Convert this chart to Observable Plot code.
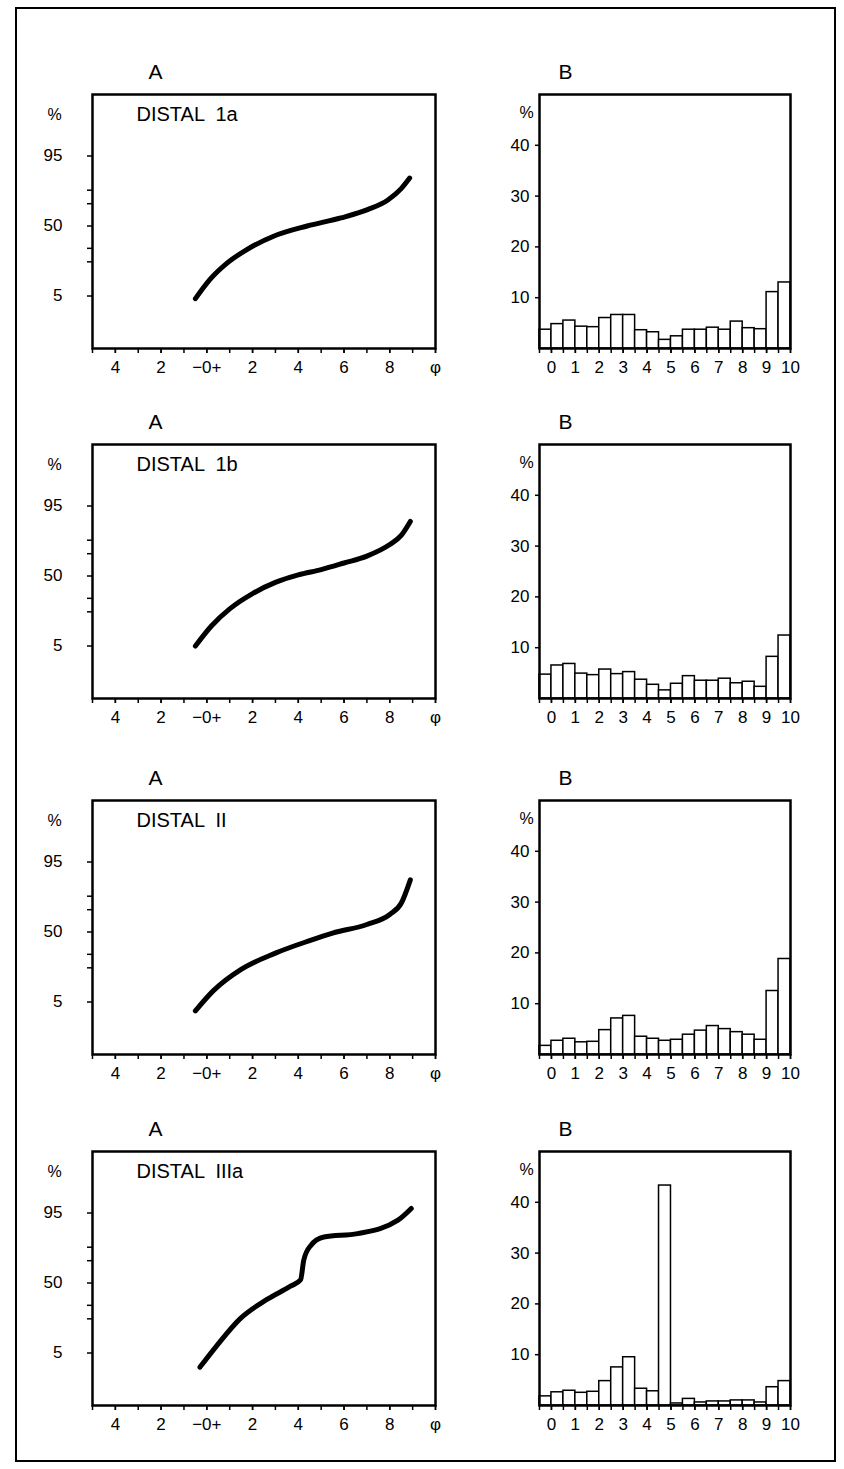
<!DOCTYPE html>
<html><head><meta charset="utf-8">
<script src="https://cdn.jsdelivr.net/npm/d3@7"></script>
<script src="https://cdn.jsdelivr.net/npm/@observablehq/plot@0.6"></script>
<style>
html,body{margin:0;padding:0;background:#fff;}
#fig{position:relative;width:844px;height:1469px;overflow:hidden;font-family:"Liberation Sans",Arial,sans-serif;}
#border{position:absolute;left:15px;top:7px;width:821px;height:1455px;border:2px solid #000;box-sizing:border-box;}
.panel{position:absolute;}
</style></head><body><div id="fig"><div id="border"></div></div>
<script>
// ---------- data ----------
const sampleNames = ["DISTAL  1a", "DISTAL  1b", "DISTAL  II", "DISTAL  IIIa"];

// cumulative curves (phi, cumulative %)
const cumPhi1 = [-0.5, 0.13, 0.87, 1.75, 2.92, 4.39, 5.86, 7.03, 7.92, 8.5, 8.87];
const cumPct1 = [4.4, 10.4, 19, 29, 40.5, 50, 57.5, 65, 73, 81, 87];
const cumPhi2 = [-0.5, 0.2, 1.0, 2.0, 3.0, 4.0, 5.0, 6.0, 7.0, 8.0, 8.5, 8.9];
const cumPct2 = [5, 12, 22, 34, 44, 51, 56, 62, 68, 77, 83, 90];
const cumPhi3 = [-0.5, 0.3, 1.5, 3.0, 4.5, 5.5, 7.0, 8.0, 8.5, 8.9];
const cumPct3 = [3.2, 8.5, 19, 31, 42, 49, 57, 66, 75, 89];
const cumPhi4 = [-0.3, 0.43, 1.45, 2.63, 3.66, 4.1, 4.24, 4.54, 5.12, 6.59, 8.36, 8.94];
const cumPct4 = [2.4, 7, 20, 35, 47, 53, 70.6, 81, 86, 87.7, 93, 96];

// histogram classes (half-phi), lower edges
const binLower = [-0.5, 0, 0.5, 1, 1.5, 2, 2.5, 3, 3.5, 4, 4.5, 5, 5.5, 6, 6.5, 7, 7.5, 8, 8.5, 9, 9.5];
const binWidth = 0.5;
const freq1 = [3.7, 4.8, 5.5, 4.3, 4.2, 6.0, 6.6, 6.6, 3.6, 3.2, 1.7, 2.4, 3.7, 3.7, 4.1, 3.7, 5.3, 4.0, 3.8, 11.1, 13.0];
const freq2 = [4.7, 6.5, 6.8, 4.9, 4.6, 5.7, 4.8, 5.2, 3.7, 2.7, 1.6, 2.9, 4.4, 3.5, 3.5, 3.9, 3.0, 3.3, 2.3, 8.2, 12.4];
const freq3 = [1.7, 2.7, 3.1, 2.4, 2.5, 4.8, 7.1, 7.6, 3.5, 3.1, 2.7, 2.9, 3.9, 4.7, 5.6, 5.0, 4.4, 3.9, 2.9, 12.5, 18.8];
const freq4 = [1.8, 2.6, 2.9, 2.5, 2.7, 4.8, 7.5, 9.5, 3.3, 2.8, 43.3, 0.4, 1.3, 0.6, 0.8, 0.8, 1.0, 1.0, 0.6, 3.6, 4.8];

// axis ticks
const aTickValues = [-4, -2, 0, 2, 4, 6, 8, 10];
const aTickLabels = ["4", "2", "−0+", "2", "4", "6", "8", "φ"];
const aMinorTicks = [-5, -4, -3, -2, -1, 0, 1, 2, 3, 4, 5, 6, 7, 8, 9, 10];
const aPctTicks = [5, 50, 95];
const aPctMinor = [20, 30, 70, 80];
const bTickValues = [0, 1, 2, 3, 4, 5, 6, 7, 8, 9, 10];
const bMinorTicks = [-0.5, 0, 0.5, 1, 1.5, 2, 2.5, 3, 3.5, 4, 4.5, 5, 5.5, 6, 6.5, 7, 7.5, 8, 8.5, 9, 9.5, 10];
const bFreqTicks = [10, 20, 30, 40];

const cumPhis = [cumPhi1, cumPhi2, cumPhi3, cumPhi4];
const cumPcts = [cumPct1, cumPct2, cumPct3, cumPct4];
const freqs = [freq1, freq2, freq3, freq4];

// ---------- probability (probit) transform ----------
function probit(p) {
  const a = [-3.969683028665376e+01, 2.209460984245205e+02, -2.759285104469687e+02, 1.383577518672690e+02, -3.066479806614716e+01, 2.506628277459239e+00];
  const b = [-5.447609879822406e+01, 1.615858368580409e+02, -1.556989798598866e+02, 6.680131188771972e+01, -1.328068155288572e+01];
  const c = [-7.784894002430293e-03, -3.223964580411365e-01, -2.400758277161838e+00, -2.549732539343734e+00, 4.374664141464968e+00, 2.938163982698783e+00];
  const d = [7.784695709041462e-03, 3.224671290700398e-01, 2.445134137142996e+00, 3.754408661907416e+00];
  const pl = 0.02425, ph = 1 - pl;
  let q, r;
  if (p < pl) { q = Math.sqrt(-2 * Math.log(p)); return (((((c[0]*q+c[1])*q+c[2])*q+c[3])*q+c[4])*q+c[5]) / ((((d[0]*q+d[1])*q+d[2])*q+d[3])*q+1); }
  if (p <= ph) { q = p - 0.5; r = q*q; return (((((a[0]*r+a[1])*r+a[2])*r+a[3])*r+a[4])*r+a[5])*q / (((((b[0]*r+b[1])*r+b[2])*r+b[3])*r+b[4])*r+1); }
  q = Math.sqrt(-2 * Math.log(1 - p));
  return -(((((c[0]*q+c[1])*q+c[2])*q+c[3])*q+c[4])*q+c[5]) / ((((d[0]*q+d[1])*q+d[2])*q+d[3])*q+1);
}
const zOf = pct => probit(pct / 100);

// ---------- layout ----------
const FONT = "'Liberation Sans', Arial, sans-serif";
const rowTops = [94, 444, 800, 1151];
const frameH = 254;
const A = {left: 92, w: 343, ml: 80, mr: 20, mt: 40, mb: 40};
const B = {left: 539, w: 251, ml: 40, mr: 30, mt: 40, mb: 40};

const fig = document.getElementById("fig");
function place(svg, left, top) {
  svg.classList.add("panel");
  svg.style.left = left + "px";
  svg.style.top = top + "px";
  fig.appendChild(svg);
}

function plotA(i) {
  const data = cumPhis[i].map((p, k) => ({phi: p, z: zOf(cumPcts[i][k])}));
  const zTicks = aPctTicks.map(zOf);
  return Plot.plot({
    width: A.ml + A.w + A.mr, height: A.mt + frameH + A.mb,
    marginLeft: A.ml, marginRight: A.mr, marginTop: A.mt, marginBottom: A.mb,
    style: {fontFamily: FONT, fontSize: "17px", background: "transparent", color: "#000"},
    x: {domain: [-5, 10]},
    y: {domain: [zOf(0.2), zOf(99.9)]},
    marks: [
      Plot.axisX({ticks: aMinorTicks, tickSize: 5, tickFormat: () => "", label: null, strokeWidth: 1.5}),
      Plot.axisX({ticks: aTickValues, tickSize: 5, tickPadding: 7, label: null, strokeWidth: 1.5, fontSize: 17,
        tickFormat: d => aTickLabels[aTickValues.indexOf(d)]}),
      Plot.axisY({ticks: aPctMinor.map(zOf), tickSize: 5, tickFormat: () => "", label: null, strokeWidth: 1.5}),
      Plot.axisY({ticks: zTicks, tickSize: 5, tickPadding: 25, label: null, strokeWidth: 1.5, fontSize: 17,
        tickFormat: d => String(aPctTicks[zTicks.findIndex(z => Math.abs(z - d) < 1e-9)])}),
      Plot.line(data, {x: "phi", y: "z", stroke: "#000", strokeWidth: 5, curve: "monotone-x", strokeLinecap: "round"}),
      Plot.frame({stroke: "#000", strokeWidth: 2.5}),
      Plot.text(["A"], {frameAnchor: "top-left", dx: 63, dy: -22, fontSize: 21, textAnchor: "middle", lineAnchor: "middle"}),
      Plot.text(["%"], {frameAnchor: "top-left", dx: -38, dy: 20, fontSize: 16, textAnchor: "middle", lineAnchor: "middle"}),
      Plot.text([sampleNames[i]], {frameAnchor: "top-left", dx: 44, dy: 20, fontSize: 20, textAnchor: "start", lineAnchor: "middle"})
    ]
  });
}

function plotB(i) {
  const bins = binLower.map((x, k) => ({x1: x, x2: x + binWidth, f: freqs[i][k]}));
  return Plot.plot({
    width: B.ml + B.w + B.mr, height: B.mt + frameH + B.mb,
    marginLeft: B.ml, marginRight: B.mr, marginTop: B.mt, marginBottom: B.mb,
    style: {fontFamily: FONT, fontSize: "17px", background: "transparent", color: "#000"},
    x: {domain: [-0.5, 10]},
    y: {domain: [0, 50]},
    marks: [
      Plot.rectY(bins, {x1: "x1", x2: "x2", y1: 0, y2: "f", fill: "white", stroke: "#000", strokeWidth: 1.5}),
      Plot.axisX({ticks: bMinorTicks, tickSize: 5, tickFormat: () => "", label: null, strokeWidth: 1.5}),
      Plot.axisX({ticks: bTickValues, tickSize: 5, tickPadding: 7, label: null, strokeWidth: 1.5, fontSize: 17}),
      Plot.axisY({ticks: bFreqTicks, tickSize: 4, tickPadding: 6, label: null, strokeWidth: 1.5, fontSize: 17}),
      Plot.frame({stroke: "#000", strokeWidth: 2.5}),
      Plot.text(["B"], {frameAnchor: "top-left", dx: 26, dy: -22, fontSize: 21, textAnchor: "middle", lineAnchor: "middle"}),
      Plot.text(["%"], {frameAnchor: "top-left", dx: -13, dy: 18, fontSize: 16, textAnchor: "middle", lineAnchor: "middle"})
    ]
  });
}

for (let i = 0; i < 4; i++) {
  place(plotA(i), A.left - A.ml, rowTops[i] - A.mt);
  place(plotB(i), B.left - B.ml, rowTops[i] - B.mt);
}
</script>
</body></html>
